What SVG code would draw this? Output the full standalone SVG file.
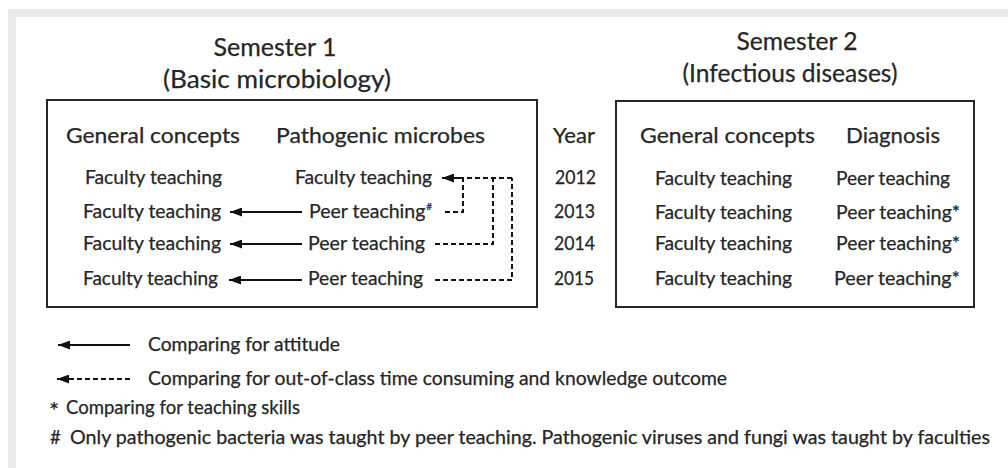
<svg xmlns="http://www.w3.org/2000/svg" width="1008" height="468" viewBox="0 0 1008 468">
  <style>
    .t { font-family: Lato, "Open Sans", "Liberation Sans", sans-serif; fill: #262626; stroke: #262626; stroke-width: 0.25; }
    .title { font-size: 25.5px; text-anchor: middle; }
    .head { font-size: 21.5px; }
    .cell { font-size: 19.5px; }
    .leg { font-size: 18.5px; }
    .box { fill: none; stroke: #262626; stroke-width: 2; }
    .solid { fill: none; stroke: #111; stroke-width: 2; }
    .dash { fill: none; stroke: #111; stroke-width: 2; stroke-dasharray: 5 3; }
  </style>
  <defs>
    <marker id="head" markerUnits="userSpaceOnUse" markerWidth="12" markerHeight="9" refX="12" refY="4.5" orient="auto">
      <path d="M0,0 L12,4.5 L0,9 Z" fill="#111"/>
    </marker>
  </defs>

  <!-- page frame -->
  <rect x="8" y="9" width="1000" height="459" fill="#ebebeb"/>
  <rect x="16" y="17" width="992" height="451" fill="#ffffff"/>

  <!-- semester titles -->
  <g id="title-semester-1">
    <text class="t title" x="275" y="56" textLength="123" lengthAdjust="spacingAndGlyphs">Semester 1</text>
    <text class="t title" x="277" y="88" textLength="228" lengthAdjust="spacingAndGlyphs">(Basic microbiology)</text>
  </g>
  <g id="title-semester-2">
    <text class="t title" x="797" y="50" textLength="121" lengthAdjust="spacingAndGlyphs">Semester 2</text>
    <text class="t title" x="790" y="82" textLength="215" lengthAdjust="spacingAndGlyphs">(Infectious diseases)</text>
  </g>

  <!-- semester 1 box -->
  <g id="semester-1">
    <rect class="box" x="47" y="100" width="490" height="207"/>
    <text class="t head" x="66" y="143" textLength="174" lengthAdjust="spacingAndGlyphs">General concepts</text>
    <text class="t head" x="276" y="143" textLength="209" lengthAdjust="spacingAndGlyphs">Pathogenic microbes</text>
  </g>
  <g id="s1-2012">
    <text class="t cell" x="85" y="184" textLength="137" lengthAdjust="spacingAndGlyphs">Faculty teaching</text>
    <text class="t cell" x="295" y="184" textLength="137" lengthAdjust="spacingAndGlyphs">Faculty teaching</text>
  </g>
  <g id="s1-2013">
    <text class="t cell" x="83" y="218" textLength="138" lengthAdjust="spacingAndGlyphs">Faculty teaching</text>
    <text class="t cell" x="309" y="218">Peer teaching<tspan font-size="10" dx="1" dy="-8">#</tspan></text>
  </g>
  <g id="s1-2014">
    <text class="t cell" x="83" y="250" textLength="138" lengthAdjust="spacingAndGlyphs">Faculty teaching</text>
    <text class="t cell" x="308" y="250" textLength="117" lengthAdjust="spacingAndGlyphs">Peer teaching</text>
  </g>
  <g id="s1-2015">
    <text class="t cell" x="83" y="285" textLength="135" lengthAdjust="spacingAndGlyphs">Faculty teaching</text>
    <text class="t cell" x="308" y="285" textLength="115" lengthAdjust="spacingAndGlyphs">Peer teaching</text>
  </g>

  <!-- year column -->
  <g id="years">
    <text class="t head" x="553" y="143" textLength="42" lengthAdjust="spacingAndGlyphs">Year</text>
    <text class="t cell" x="555" y="184" textLength="41" lengthAdjust="spacingAndGlyphs">2012</text>
    <text class="t cell" x="554" y="218" textLength="41" lengthAdjust="spacingAndGlyphs">2013</text>
    <text class="t cell" x="554" y="250" textLength="41" lengthAdjust="spacingAndGlyphs">2014</text>
    <text class="t cell" x="554" y="285" textLength="40" lengthAdjust="spacingAndGlyphs">2015</text>
  </g>

  <!-- semester 2 box -->
  <g id="semester-2">
    <rect class="box" x="616" y="101" width="358" height="206"/>
    <text class="t head" x="640" y="143" textLength="175" lengthAdjust="spacingAndGlyphs">General concepts</text>
    <text class="t head" x="846" y="143" textLength="94" lengthAdjust="spacingAndGlyphs">Diagnosis</text>
  </g>
  <g id="s2-2012">
    <text class="t cell" x="655" y="185" textLength="137" lengthAdjust="spacingAndGlyphs">Faculty teaching</text>
    <text class="t cell" x="836" y="185" textLength="114" lengthAdjust="spacingAndGlyphs">Peer teaching</text>
  </g>
  <g id="s2-2013">
    <text class="t cell" x="655" y="219" textLength="137" lengthAdjust="spacingAndGlyphs">Faculty teaching</text>
    <text class="t cell" x="836" y="219" textLength="124" lengthAdjust="spacingAndGlyphs">Peer teaching*</text>
  </g>
  <g id="s2-2014">
    <text class="t cell" x="655" y="250" textLength="137" lengthAdjust="spacingAndGlyphs">Faculty teaching</text>
    <text class="t cell" x="836" y="250" textLength="124" lengthAdjust="spacingAndGlyphs">Peer teaching*</text>
  </g>
  <g id="s2-2015">
    <text class="t cell" x="655" y="285" textLength="137" lengthAdjust="spacingAndGlyphs">Faculty teaching</text>
    <text class="t cell" x="834" y="285" textLength="126" lengthAdjust="spacingAndGlyphs">Peer teaching*</text>
  </g>

  <!-- comparisons between teaching modes -->
  <g id="connectors">
    <line class="solid" x1="302" y1="212" x2="230" y2="212" marker-end="url(#head)"/>
    <line class="solid" x1="302" y1="244" x2="230" y2="244" marker-end="url(#head)"/>
    <line class="solid" x1="302" y1="280" x2="229" y2="280" marker-end="url(#head)"/>
    <path class="solid" d="M463,178 H452"/>
    <path class="dash" d="M512,178 H463"/>
    <line class="solid" x1="452" y1="178" x2="442" y2="178" marker-end="url(#head)"/>
    <path class="dash" d="M445,212 H463 V178"/>
    <path class="dash" d="M435,244 H493 V178"/>
    <path class="dash" d="M435,280 H512 V178"/>
  </g>

  <!-- legend -->
  <g id="legend">
    <line class="solid" x1="130" y1="345" x2="58" y2="345" marker-end="url(#head)"/>
    <text class="t leg" x="148" y="351" textLength="192" lengthAdjust="spacingAndGlyphs">Comparing for attitude</text>
    <path class="dash" d="M130,379 H68"/>
    <line class="solid" x1="70" y1="379" x2="57" y2="379" marker-end="url(#head)"/>
    <text class="t leg" x="148" y="385" textLength="579" lengthAdjust="spacingAndGlyphs">Comparing for out-of-class time consuming and knowledge outcome</text>
    <text class="t" x="49" y="419" font-size="24">*</text>
    <text class="t leg" x="66" y="414" textLength="234" lengthAdjust="spacingAndGlyphs">Comparing for teaching skills</text>
    <text class="t leg" x="50" y="444">#</text>
    <text class="t leg" x="70" y="444" textLength="920" lengthAdjust="spacingAndGlyphs">Only pathogenic bacteria was taught by peer teaching. Pathogenic viruses and fungi was taught by faculties</text>
  </g>
</svg>
